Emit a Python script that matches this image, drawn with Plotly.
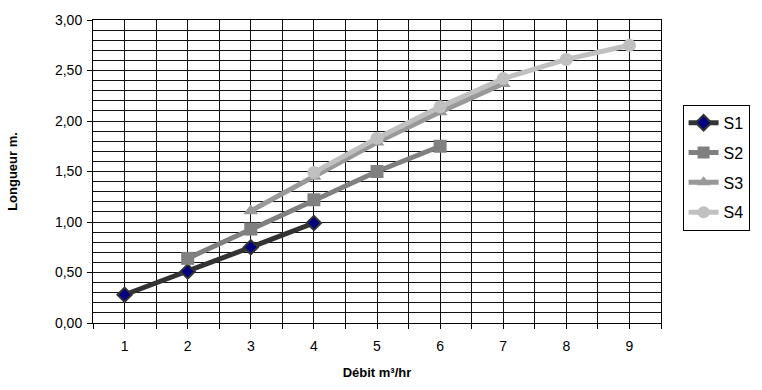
import plotly.graph_objects as go

x_s1 = [1, 2, 3, 4]
y_s1 = [0.28, 0.51, 0.75, 0.99]
x_s2 = [2, 3, 4, 5, 6]
y_s2 = [0.64, 0.93, 1.22, 1.50, 1.75]
x_s3 = [3, 4, 5, 6, 7]
y_s3 = [1.11, 1.45, 1.79, 2.09, 2.37]
x_s4 = [4, 5, 6, 7, 8, 9]
y_s4 = [1.49, 1.83, 2.14, 2.42, 2.61, 2.75]

x_ticks = [1, 2, 3, 4, 5, 6, 7, 8, 9]
y_ticks = [0, 0.5, 1.0, 1.5, 2.0, 2.5, 3.0]
y_labels = ["0,00", "0,50", "1,00", "1,50", "2,00", "2,50", "3,00"]

FONT = "Liberation Sans, Arial, sans-serif"

fig = go.Figure()
fig.add_trace(go.Scatter(x=x_s1, y=y_s1, name="S1", mode="lines+markers", legendgroup="1",
                         line=dict(color="#333333", width=5),
                         marker=dict(symbol="diamond", size=11, color="#000080",
                                     line=dict(color="#333333", width=2))))
fig.add_trace(go.Scatter(x=x_s2, y=y_s2, name="S2", mode="lines+markers", legendgroup="2",
                         line=dict(color="#808080", width=5),
                         marker=dict(symbol="square", size=13, color="#808080")))
fig.add_trace(go.Scatter(x=x_s3, y=y_s3, name="S3", mode="lines+markers", legendgroup="3",
                         line=dict(color="#999999", width=5),
                         marker=dict(symbol="triangle-up", size=13, color="#999999")))
fig.add_trace(go.Scatter(x=x_s4, y=y_s4, name="S4", mode="lines+markers", legendgroup="4",
                         line=dict(color="#C0C0C0", width=5),
                         marker=dict(symbol="circle", size=13, color="#C0C0C0")))

xt = [v / 2 for v in range(1, 20)]
xl = [str(int(v)) if v == int(v) else "" for v in xt]

fig.update_layout(
    width=762, height=390,
    margin=dict(l=92, r=99, t=20, b=63),
    paper_bgcolor="white", plot_bgcolor="white",
    font=dict(family=FONT, size=13, color="black"),
    xaxis=dict(range=[0.5, 9.5], tickvals=xt, ticktext=xl, ticks="outside", ticklen=5,
               tickcolor="black", showgrid=True, gridcolor="#111111", gridwidth=1,
               showline=True, linecolor="black", linewidth=1, mirror=True, zeroline=False,
               tickfont=dict(size=14), ticklabelstandoff=5,
               title=dict(text="<b>Débit m³/hr</b>", font=dict(size=13), standoff=15)),
    yaxis=dict(range=[0, 3], tickvals=y_ticks, ticktext=y_labels, ticks="outside", ticklen=5,
               tickcolor="black", showgrid=True, gridcolor="#111111", gridwidth=1,
               minor=dict(dtick=0.1, showgrid=True, gridcolor="#111111", gridwidth=1),
               showline=True, linecolor="black", linewidth=1, mirror=True, zeroline=False,
               tickfont=dict(size=14), ticklabelstandoff=2,
               title=dict(text="<b>Longueur m.</b>", font=dict(size=13), standoff=34)),
    legend=dict(x=1.038, y=0.72, xanchor="left", yanchor="top",
                bordercolor="black", borderwidth=1, bgcolor="white", itemsizing="constant",
                font=dict(size=16), tracegroupgap=6, traceorder="grouped"),
)

fig.write_html("out.html")
